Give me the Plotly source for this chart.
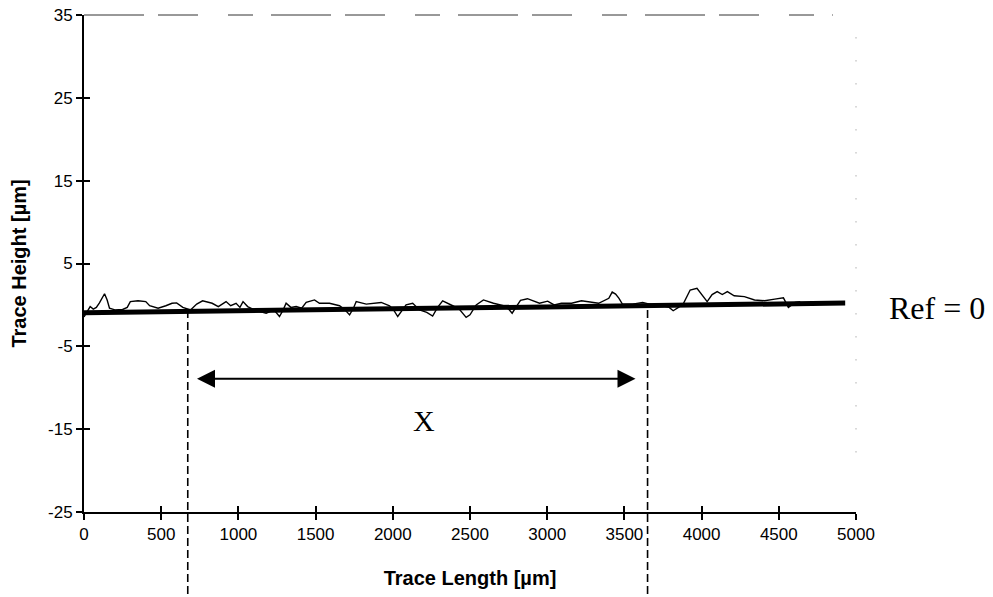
import plotly.graph_objects as go

# ---- data ----
trace_x = [0, 20, 40, 60, 80, 100, 133, 150, 165, 200, 250, 280, 300, 350, 400, 425, 480, 530,
           570, 600, 640, 690, 730, 768, 800, 830, 870, 920, 950, 985, 1010, 1030, 1060, 1093,
           1140, 1180, 1230, 1266, 1290, 1309, 1340, 1374, 1410, 1439, 1493, 1525, 1590, 1655,
           1690, 1720, 1745, 1763, 1828, 1871, 1925, 1979, 2005, 2032, 2060, 2086, 2129, 2173,
           2220, 2258, 2290, 2323, 2388, 2430, 2475, 2500, 2540, 2565, 2587, 2652, 2717, 2750,
           2773, 2800, 2827, 2872, 2916, 2950, 3003, 3045, 3092, 3158, 3222, 3264, 3333, 3399,
           3421, 3443, 3465, 3487, 3553, 3618, 3683, 3748, 3790, 3816, 3850, 3883, 3926, 3970,
           4003, 4036, 4068, 4101, 4134, 4167, 4211, 4277, 4343, 4408, 4474, 4530, 4562, 4606,
           4639]
trace_y = [-1.45, -0.9, -0.2, -0.5, -0.3, 0.25, 1.35, 0.6, -0.4, -0.6, -0.55, -0.3, 0.4, 0.5,
           0.4, -0.1, -0.4, -0.1, 0.2, 0.25, -0.3, -0.6, 0.1, 0.5, 0.3, 0.2, -0.2, 0.4, -0.1,
           0.2, -0.3, 0.4, -0.2, -0.5, -0.8, -1.0, -0.6, -1.4, -0.6, 0.2, -0.3, -0.2, -0.4, 0.3,
           0.6, 0.2, 0.2, -0.1, -0.6, -1.2, -0.4, 0.4, 0.1, 0.2, 0.3, -0.1, -0.6, -1.4, -0.7,
           0.0, 0.2, -0.6, -0.9, -1.35, -0.3, 0.5, -0.1, -0.5, -1.5, -1.2, 0.0, 0.35, 0.6, 0.2,
           -0.1, -0.5, -1.0, -0.2, 0.55, 0.75, 0.4, 0.2, 0.45, 0.0, 0.2, 0.2, 0.5, 0.4, 0.2,
           0.8, 1.55, 1.3, 0.8, 0.1, 0.1, 0.3, 0.0, -0.1, -0.3, -0.7, -0.3, 0.2, 1.8, 2.0,
           1.25, 0.4, 1.25, 1.6, 1.25, 1.6, 1.1, 1.0, 0.6, 0.5, 0.7, 0.85, -0.3, 0.3, 0.4]

ref_x = [0, 4930]
ref_y = [-0.95, 0.22]

x_ticks = [0, 500, 1000, 1500, 2000, 2500, 3000, 3500, 4000, 4500, 5000]
y_ticks = [-25, -15, -5, 5, 15, 25, 35]
x_range = [0, 5000]
y_range = [-25, 35]

x_marks = [672, 3650]          # dashed limits of the region X
x_mark_top = -0.6
arrow_x = [722, 3572]
arrow_y = -8.9
label_x_pos = [2205, -13.9]

FONT = "Liberation Sans, Arial, sans-serif"
SERIF = "Liberation Serif, Times New Roman, serif"

fig = go.Figure()
fig.add_trace(go.Scatter(x=ref_x, y=ref_y, mode="lines",
                         line=dict(color="black", width=5), showlegend=False, hoverinfo="skip"))
fig.add_trace(go.Scatter(x=trace_x, y=trace_y, mode="lines",
                         line=dict(color="black", width=1.4), showlegend=False, hoverinfo="skip"))
# helper trace so the overlay axes (inner half of the crossing ticks) are drawn
fig.add_trace(go.Scatter(x=[None], y=[None], xaxis="x2", yaxis="y2", showlegend=False))

ymin, ymax = y_range
for xm in x_marks:
    fig.add_shape(type="line", xref="x", yref="paper", x0=xm, x1=xm,
                  y0=(x_mark_top - ymin) / (ymax - ymin), y1=-0.18,
                  line=dict(color="black", width=1.6, dash="8px,4px"))

# faint top and right frame (scanned look)
fig.add_shape(type="line", xref="paper", yref="paper", x0=0, x1=0.97, y0=1, y1=1,
              line=dict(color="#333333", width=1, dash="60px,14px,40px,30px,25px,18px"))
fig.add_shape(type="line", xref="paper", yref="paper", x0=1, x1=1, y0=0.12, y1=0.98,
              line=dict(color="#888888", width=1, dash="1px,22px"))

fig.add_annotation(x=arrow_x[1], y=arrow_y, ax=arrow_x[0], ay=arrow_y,
                   xref="x", yref="y", axref="x", ayref="y", text="",
                   showarrow=True, arrowhead=2, startarrowhead=2, arrowside="end+start",
                   arrowsize=1.8, startarrowsize=1.8, arrowwidth=2, arrowcolor="black")
fig.add_annotation(x=label_x_pos[0], y=label_x_pos[1], xref="x", yref="y", text="X",
                   showarrow=False, font=dict(family=SERIF, size=30, color="black"))
fig.add_annotation(x=1.105, y=ref_y[1] - 0.6, xref="paper", yref="y", text="Ref = 0",
                   xanchor="center", yanchor="middle",
                   showarrow=False, font=dict(family=SERIF, size=32, color="black"))

fig.update_layout(
    width=993, height=597,
    margin=dict(l=84, r=137, t=15, b=85, autoexpand=False),
    paper_bgcolor="white", plot_bgcolor="white",
    font=dict(family=FONT, color="black"),
    xaxis=dict(range=x_range, tickvals=x_ticks, ticktext=[str(v) for v in x_ticks],
               ticks="outside", ticklen=6, tickwidth=1.5, tickcolor="black",
               showline=True, linecolor="black", linewidth=1.5,
               showgrid=False, zeroline=False, automargin=False,
               tickfont=dict(size=17, family=FONT),
               title=dict(text="<b>Trace Length [µm]</b>", font=dict(size=20, family=FONT),
                          standoff=28)),
    yaxis=dict(range=y_range, tickvals=y_ticks, ticktext=[str(v) for v in y_ticks],
               ticks="outside", ticklen=6, tickwidth=1.5, tickcolor="black",
               showline=True, linecolor="black", linewidth=2,
               showgrid=False, zeroline=False, automargin=False,
               ticklabeloverflow="allow",
               tickfont=dict(size=17, family=FONT),
               title=dict(text="<b>Trace Height [µm]</b>", font=dict(size=20, family=FONT),
                          standoff=16)),
    xaxis2=dict(range=x_range, overlaying="x", anchor="y", side="bottom", tickvals=x_ticks,
                ticks="inside", ticklen=6, tickwidth=1.5, tickcolor="black",
                showticklabels=False, showline=False, showgrid=False, zeroline=False),
    yaxis2=dict(range=y_range, overlaying="y", anchor="x", side="left", tickvals=y_ticks,
                ticks="inside", ticklen=6, tickwidth=1.5, tickcolor="black",
                showticklabels=False, showline=False, showgrid=False, zeroline=False),
)

# remove the default 8px page margin so the figure fills the window exactly
fig.write_html("out.html", config={"displayModeBar": False},
               post_script="document.body.style.margin='0';")
